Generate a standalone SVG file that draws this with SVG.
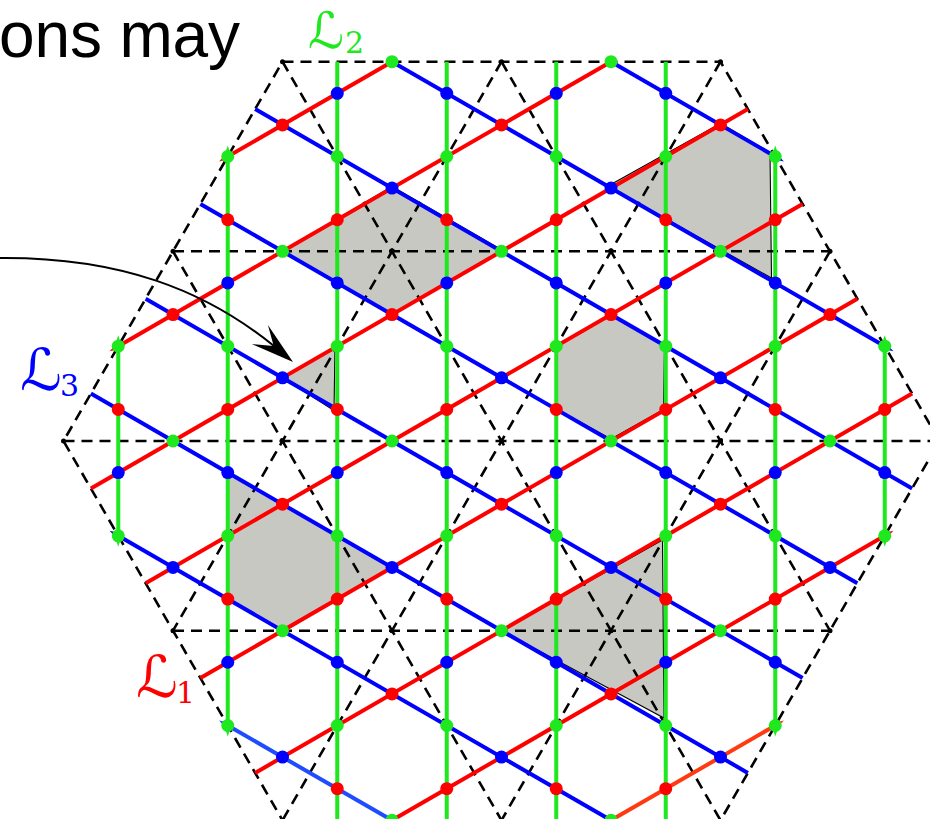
<svg xmlns="http://www.w3.org/2000/svg" width="930" height="819" viewBox="0 0 930 819">
<style>
.dash{stroke:#000;stroke-width:2.6;stroke-dasharray:11 7;fill:none}
.shade{fill:#c8c8c3;stroke:#000;stroke-width:1.1}
.g{stroke:#1ee81e;stroke-width:4;fill:none}
.r{stroke:#ff0000;stroke-width:4;fill:none}
.b{stroke:#0000ff;stroke-width:4;fill:none}
.dg{fill:#1ee81e}.dr{fill:#ff0000}.db{fill:#0000ff}
.vx{fill:#000}
.lab{font-family:"DejaVu Serif","DejaVu Sans",serif;font-style:italic}
.sub{font-family:"DejaVu Serif","Liberation Serif",serif}
circle{r:6.5}
</style>
<defs>
<marker id="ag" markerUnits="userSpaceOnUse" markerWidth="14" markerHeight="10" refX="0" refY="0" orient="auto-start-reverse" overflow="visible"><path d="M-1,-4 L11,0 L-1,4 z" fill="#1ee81e"/></marker>
<marker id="ar" markerUnits="userSpaceOnUse" markerWidth="14" markerHeight="10" refX="0" refY="0" orient="auto" overflow="visible"><path d="M-1,-3.5 L10,0 L-1,3.5 z" fill="#ff0000"/></marker>
<marker id="ar2" markerUnits="userSpaceOnUse" markerWidth="14" markerHeight="10" refX="0" refY="0" orient="auto" overflow="visible"><path d="M-1,-3.5 L10,0 L-1,3.5 z" fill="#ff3a10"/></marker>
<marker id="ab" markerUnits="userSpaceOnUse" markerWidth="14" markerHeight="10" refX="0" refY="0" orient="auto" overflow="visible"><path d="M-1,-3.5 L10,0 L-1,3.5 z" fill="#0000ff"/></marker>
<marker id="ab2" markerUnits="userSpaceOnUse" markerWidth="14" markerHeight="10" refX="0" refY="0" orient="auto" overflow="visible"><path d="M-1,-3.5 L10,0 L-1,3.5 z" fill="#1f4cff"/></marker>
</defs>
<rect width="930" height="819" fill="#fff"/>

<g id="title"><text x="-1" y="57" font-family="Liberation Sans, Arial, sans-serif" font-size="64" textLength="241" fill="#000">ons may</text></g>

<g id="shaded">
<polygon class="shade" points="282.5,251.3 392,186.5 502,250 392,314.6"/>
<polygon class="shade" points="609,185.5 720.5,123.5 770,152.5 771.5,278 611,188.1"/>
<polygon class="shade" points="282.5,377.8 335,347.5 334,410.5"/>
<polygon class="shade" points="611,314.6 664.5,346.2 663.5,409.4 611,439 557.5,409.4 556.3,346.2"/>
<polygon class="shade" points="227.8,472.6 392,567.4 282.5,632 227.8,599"/>
<polygon class="shade" points="501.5,630.7 662.5,540 664,718"/>
</g>

<g id="dashed-lattice">
<polygon class="dash" points="282.5,61.7 720.5,61.7 939.5,441 720.5,820.3 282.5,820.3 63.5,441"/>
<line class="dash" x1="173" y1="251.3" x2="830" y2="251.3"/>
<line class="dash" x1="63.5" y1="441" x2="939.5" y2="441"/>
<line class="dash" x1="173" y1="630.7" x2="830" y2="630.7"/>
<line class="dash" x1="501.5" y1="61.7" x2="830" y2="630.7"/>
<line class="dash" x1="282.5" y1="61.7" x2="720.5" y2="820.3"/>
<line class="dash" x1="173" y1="251.3" x2="501.5" y2="820.3"/>
<line class="dash" x1="501.5" y1="61.7" x2="173" y2="630.7"/>
<line class="dash" x1="720.5" y1="61.7" x2="282.5" y2="820.3"/>
<line class="dash" x1="830" y1="251.3" x2="501.5" y2="820.3"/>
<g class="vx">
<circle cx="282.5" cy="61.7" style="r:2.5"/><circle cx="501.5" cy="61.7" style="r:2.5"/><circle cx="720.5" cy="61.7" style="r:2.5"/>
<circle cx="173" cy="251.3" style="r:2.5"/><circle cx="392" cy="251.3" style="r:2.5"/><circle cx="611" cy="251.3" style="r:2.5"/><circle cx="830" cy="251.3" style="r:2.5"/>
<circle cx="63.5" cy="441" style="r:2.5"/><circle cx="282.5" cy="441" style="r:2.5"/><circle cx="501.5" cy="441" style="r:2.5"/><circle cx="720.5" cy="441" style="r:2.5"/>
<circle cx="173" cy="630.7" style="r:2.5"/><circle cx="392" cy="630.7" style="r:2.5"/><circle cx="611" cy="630.7" style="r:2.5"/><circle cx="830" cy="630.7" style="r:2.5"/>
</g>
</g>

<g id="connectors">
<line class="g" x1="118.25" y1="346.17" x2="118.25" y2="535.83" marker-start="url(#ag)" marker-end="url(#ag)"/>
<line class="g" x1="227.75" y1="156.51" x2="227.75" y2="725.49" marker-start="url(#ag)" marker-end="url(#ag)"/>
<line class="g" x1="337.25" y1="61.7" x2="337.25" y2="820.3"/>
<line class="g" x1="446.75" y1="61.7" x2="446.75" y2="820.3"/>
<line class="g" x1="556.25" y1="61.7" x2="556.25" y2="820.3"/>
<line class="g" x1="665.75" y1="61.7" x2="665.75" y2="820.3"/>
<line class="g" x1="775.25" y1="156.51" x2="775.25" y2="725.49" marker-start="url(#ag)" marker-end="url(#ag)"/>
<line class="g" x1="884.75" y1="346.17" x2="884.75" y2="535.83" marker-start="url(#ag)" marker-end="url(#ag)"/>
<line class="r" x1="392" y1="61.68" x2="227.75" y2="156.51" marker-end="url(#ar)"/>
<line class="r" x1="611" y1="61.68" x2="118.25" y2="346.17" marker-end="url(#ar)"/>
<line class="r" x1="90.88" y1="488.4" x2="747.88" y2="109.1"/>
<line class="r" x1="145.63" y1="583.2" x2="802.63" y2="203.9"/>
<line class="r" x1="200.38" y1="678.1" x2="857.38" y2="298.8"/>
<line class="r" x1="255.13" y1="772.9" x2="912.13" y2="393.6"/>
<line class="r" x1="392" y1="820.32" x2="884.75" y2="535.83" marker-end="url(#ar)"/>
<line class="r" x1="611" y1="820.32" x2="775.25" y2="725.49" marker-end="url(#ar2)" style="stroke:#ff3a10"/>
<line class="b" x1="611" y1="61.68" x2="775.25" y2="156.51" marker-end="url(#ab)"/>
<line class="b" x1="392" y1="61.68" x2="884.75" y2="346.17" marker-end="url(#ab)"/>
<line class="b" x1="255.13" y1="109.1" x2="912.13" y2="488.4"/>
<line class="b" x1="200.38" y1="203.9" x2="857.38" y2="583.2"/>
<line class="b" x1="145.63" y1="298.8" x2="802.63" y2="678.1"/>
<line class="b" x1="90.88" y1="393.6" x2="747.88" y2="772.9"/>
<line class="b" x1="611" y1="820.32" x2="118.25" y2="535.83" marker-end="url(#ab)"/>
<line class="b" x1="392" y1="820.32" x2="227.75" y2="725.49" marker-end="url(#ab2)" style="stroke:#1f4cff"/>
<path d="M0,258 C120,257 205,290 274,346" fill="none" stroke="#000" stroke-width="2"/>
<path d="M293,362 L251.9,344.1 L273.7,346 L267.9,324.9 z" fill="#000"/>
</g>

<g id="sites">
<g class="dg">
<circle cx="392" cy="61.68"/><circle cx="611" cy="61.68"/>
<circle cx="227.75" cy="156.51"/><circle cx="337.25" cy="156.51"/><circle cx="446.75" cy="156.51"/><circle cx="556.25" cy="156.51"/><circle cx="665.75" cy="156.51"/><circle cx="775.25" cy="156.51"/>
<circle cx="282.5" cy="251.34"/><circle cx="501.5" cy="251.34"/><circle cx="720.5" cy="251.34"/>
<circle cx="118.25" cy="346.17"/><circle cx="227.75" cy="346.17"/><circle cx="337.25" cy="346.17"/><circle cx="446.75" cy="346.17"/><circle cx="556.25" cy="346.17"/><circle cx="665.75" cy="346.17"/><circle cx="775.25" cy="346.17"/><circle cx="884.75" cy="346.17"/>
<circle cx="173" cy="441"/><circle cx="392" cy="441"/><circle cx="611" cy="441"/><circle cx="830" cy="441"/>
<circle cx="118.25" cy="535.83"/><circle cx="227.75" cy="535.83"/><circle cx="337.25" cy="535.83"/><circle cx="446.75" cy="535.83"/><circle cx="556.25" cy="535.83"/><circle cx="665.75" cy="535.83"/><circle cx="775.25" cy="535.83"/><circle cx="884.75" cy="535.83"/>
<circle cx="282.5" cy="630.66"/><circle cx="501.5" cy="630.66"/><circle cx="720.5" cy="630.66"/>
<circle cx="227.75" cy="725.49"/><circle cx="337.25" cy="725.49"/><circle cx="446.75" cy="725.49"/><circle cx="556.25" cy="725.49"/><circle cx="665.75" cy="725.49"/><circle cx="775.25" cy="725.49"/>
<circle cx="392" cy="820.32"/><circle cx="611" cy="820.32"/>
</g>
<g class="db">
<circle cx="337.25" cy="93.29"/><circle cx="446.75" cy="93.29"/><circle cx="556.25" cy="93.29"/><circle cx="665.75" cy="93.29"/>
<circle cx="392" cy="188.12"/><circle cx="611" cy="188.12"/>
<circle cx="227.75" cy="282.95"/><circle cx="337.25" cy="282.95"/><circle cx="446.75" cy="282.95"/><circle cx="556.25" cy="282.95"/><circle cx="665.75" cy="282.95"/><circle cx="775.25" cy="282.95"/>
<circle cx="282.5" cy="377.78"/><circle cx="501.5" cy="377.78"/><circle cx="720.5" cy="377.78"/>
<circle cx="118.25" cy="472.61"/><circle cx="227.75" cy="472.61"/><circle cx="337.25" cy="472.61"/><circle cx="446.75" cy="472.61"/><circle cx="556.25" cy="472.61"/><circle cx="665.75" cy="472.61"/><circle cx="775.25" cy="472.61"/><circle cx="884.75" cy="472.61"/>
<circle cx="173" cy="567.44"/><circle cx="392" cy="567.44"/><circle cx="611" cy="567.44"/><circle cx="830" cy="567.44"/>
<circle cx="227.75" cy="662.27"/><circle cx="337.25" cy="662.27"/><circle cx="446.75" cy="662.27"/><circle cx="556.25" cy="662.27"/><circle cx="665.75" cy="662.27"/><circle cx="775.25" cy="662.27"/>
<circle cx="282.5" cy="757.1"/><circle cx="501.5" cy="757.1"/><circle cx="720.5" cy="757.1"/>
</g>
<g class="dr">
<circle cx="282.5" cy="124.9"/><circle cx="501.5" cy="124.9"/><circle cx="720.5" cy="124.9"/>
<circle cx="227.75" cy="219.73"/><circle cx="337.25" cy="219.73"/><circle cx="446.75" cy="219.73"/><circle cx="556.25" cy="219.73"/><circle cx="665.75" cy="219.73"/><circle cx="775.25" cy="219.73"/>
<circle cx="173" cy="314.56"/><circle cx="392" cy="314.56"/><circle cx="611" cy="314.56"/><circle cx="830" cy="314.56"/>
<circle cx="118.25" cy="409.39"/><circle cx="227.75" cy="409.39"/><circle cx="337.25" cy="409.39"/><circle cx="446.75" cy="409.39"/><circle cx="556.25" cy="409.39"/><circle cx="665.75" cy="409.39"/><circle cx="775.25" cy="409.39"/><circle cx="884.75" cy="409.39"/>
<circle cx="282.5" cy="504.22"/><circle cx="501.5" cy="504.22"/><circle cx="720.5" cy="504.22"/>
<circle cx="227.75" cy="599.05"/><circle cx="337.25" cy="599.05"/><circle cx="446.75" cy="599.05"/><circle cx="556.25" cy="599.05"/><circle cx="665.75" cy="599.05"/><circle cx="775.25" cy="599.05"/>
<circle cx="392" cy="693.88"/><circle cx="611" cy="693.88"/>
<circle cx="337.25" cy="788.71"/><circle cx="446.75" cy="788.71"/><circle cx="556.25" cy="788.71"/><circle cx="665.75" cy="788.71"/>
</g>
</g>

<g id="label-L2"><text class="lab" x="308" y="48" font-size="50" fill="#1ee81e">ℒ</text><text class="sub" x="345" y="53" font-size="30" fill="#1ee81e">2</text></g>
<g id="label-L3"><text class="lab" x="20" y="390" font-size="58" fill="#0000ff">ℒ</text><text class="sub" x="60" y="396" font-size="30" fill="#0000ff">3</text></g>
<g id="label-L1"><text class="lab" x="136" y="697" font-size="58" fill="#ff0000">ℒ</text><text class="sub" x="176" y="703" font-size="30" fill="#ff0000">1</text></g>
</svg>
